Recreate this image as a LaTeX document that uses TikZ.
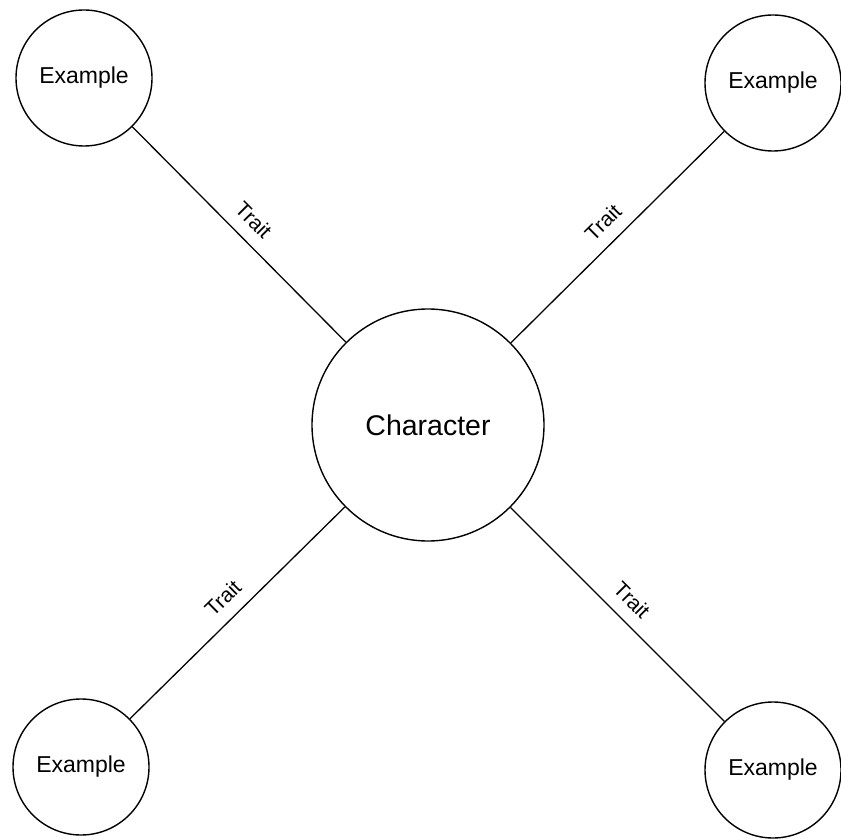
\documentclass[tikz,border=0pt]{standalone}
\usepackage{fontspec}
\setmainfont{Liberation Sans}
\begin{document}
\begin{tikzpicture}[x=1pt,y=-1pt,
  example/.style={circle,draw,line width=1.4pt,minimum size=136pt,inner sep=0pt,
    font=\fontsize{23}{27}\selectfont},
  hub/.style={circle,draw,line width=1.4pt,minimum size=232pt,inner sep=0pt,
    font=\fontsize{28.5}{33}\selectfont},
  link/.style={line width=1.3pt},
  trait/.style={sloped,above=9pt,pos=0.5,font=\fontsize{21}{25}\selectfont}]
  \useasboundingbox (0,0) rectangle (841,840);
  \fill[white] (0,0) rectangle (841,840);

  \node[hub] (char) at (428,425) {Character};
  \node[example] (tl) at (84,78) {Example};
  \node[example] (tr) at (773,83) {Example};
  \node[example] (bl) at (81,767) {Example};
  \node[example] (br) at (773,770) {Example};

  \draw[link] (tl) -- node[trait] {Trait} (char);
  \draw[link] (char) -- node[trait] {Trait} (tr);
  \draw[link] (bl) -- node[trait] {Trait} (char);
  \draw[link] (char) -- node[trait] {Trait} (br);
\end{tikzpicture}
\end{document}
